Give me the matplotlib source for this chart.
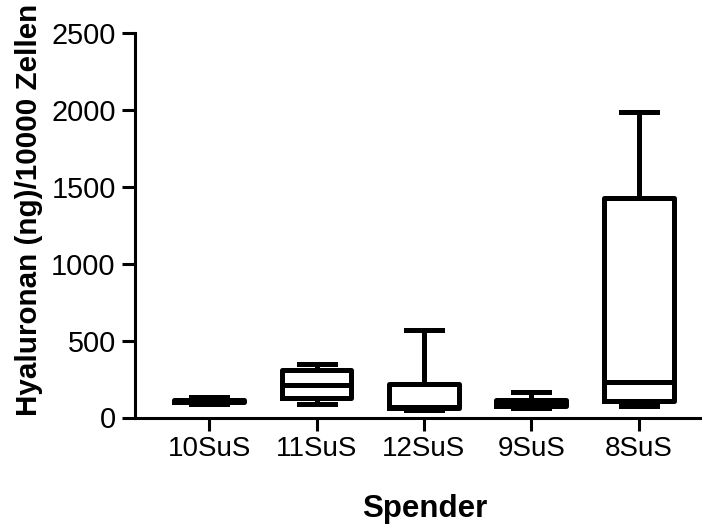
import matplotlib
matplotlib.use("Agg")
import matplotlib.pyplot as plt

categories = ["10SuS", "11SuS", "12SuS", "9SuS", "8SuS"]
whislo = [87, 88, 52, 65, 76]
q1 = [104, 127, 65, 75, 109]
medians = [110, 211, 70, 100, 232]
q3 = [117, 312, 218, 115, 1431]
whishi = [136, 351, 571, 166, 1988]
yticks = [0, 500, 1000, 1500, 2000, 2500]

plt.rcParams['font.family'] = ['Liberation Sans', 'DejaVu Sans']

fig = plt.figure(figsize=(7.05, 5.28), dpi=100)
ax = fig.add_axes([135/705, 1 - 417.5/528, 565/705, (417.5 - 33.3)/528])

stats = []
for i, c in enumerate(categories):
    stats.append(dict(label=c, whislo=whislo[i], q1=q1[i], med=medians[i],
                      q3=q3[i], whishi=whishi[i], fliers=[]))

lw = 3.6
ax.bxp(stats, positions=list(range(len(categories))), widths=0.65,
       capwidths=0.335, showfliers=False,
       boxprops=dict(color='black', linewidth=lw),
       medianprops=dict(color='black', linewidth=lw),
       whiskerprops=dict(color='black', linewidth=lw),
       capprops=dict(color='black', linewidth=lw))

ax.set_xlim(-0.69, 4.57)
ax.set_ylim(0, 2500)
ax.set_yticks(yticks)
ax.set_xticks(range(len(categories)))
ax.set_xticklabels(categories)

for s in ['top', 'right']:
    ax.spines[s].set_visible(False)
for s in ['left', 'bottom']:
    ax.spines[s].set_linewidth(2.2)
ax.tick_params(axis='both', direction='out', length=9.4, width=2.2,
               labelsize=20, pad=4)
ax.tick_params(axis='y', labelsize=20.8, pad=4.5)

ax.set_ylabel("Hyaluronan (ng)/10000 Zellen", fontsize=21.3, fontweight='bold')
ax.set_xlabel("Spender", fontsize=22.5, fontweight='bold')
ax.yaxis.set_label_coords(-0.163, 0.54)
ax.xaxis.set_label_coords(0.513, -0.2)

fig.savefig("out.png", dpi=100)
